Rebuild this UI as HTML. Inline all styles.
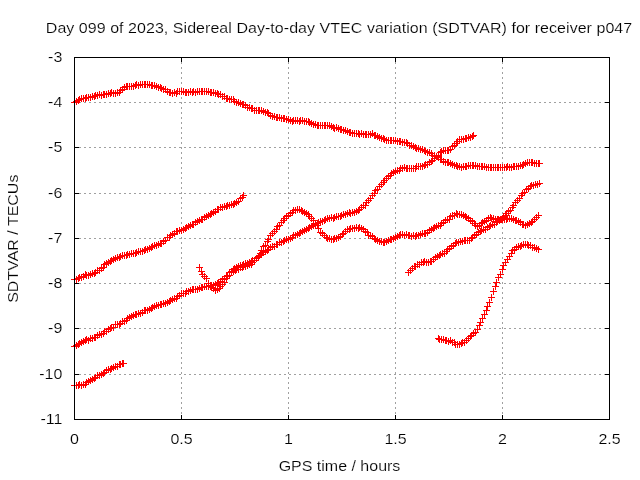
<!DOCTYPE html>
<html><head><meta charset="utf-8"><title>SDTVAR p047</title>
<style>html,body{margin:0;padding:0;background:#fff;overflow:hidden}</style></head>
<body>
<svg width="640" height="480" viewBox="0 0 640 480" style="display:block">
<rect width="640" height="480" fill="#fff"/>
<path d="M181.5 57V420M288.5 57V420M395.5 57V420M502.5 57V420" stroke="#a0a0a0" stroke-width="1" stroke-dasharray="2 3" fill="none" shape-rendering="crispEdges"/>
<path d="M74 102.5H610M74 147.5H610M74 193.5H610M74 238.5H610M74 283.5H610M74 328.5H610M74 374.5H610" stroke="#a0a0a0" stroke-width="1" stroke-dasharray="2 3" fill="none" shape-rendering="crispEdges"/>
<path d="M181.5 57v5M181.5 420v-5M288.5 57v5M288.5 420v-5M395.5 57v5M395.5 420v-5M502.5 57v5M502.5 420v-5M74 102.5h5M610 102.5h-5M74 147.5h5M610 147.5h-5M74 193.5h5M610 193.5h-5M74 238.5h5M610 238.5h-5M74 283.5h5M610 283.5h-5M74 328.5h5M610 328.5h-5M74 374.5h5M610 374.5h-5" stroke="#000" stroke-width="1" fill="none" shape-rendering="crispEdges"/>
<path d="M71 102.5h7M74.5 99v7M73 101.5h7M76.5 98v7M75 100.5h7M78.5 97v7M76 99.5h7M79.5 96v7M78 98.5h7M81.5 95v7M80 98.5h7M83.5 95v7M82 98.5h7M85.5 95v7M83 97.5h7M86.5 94v7M85 97.5h7M88.5 94v7M87 97.5h7M90.5 94v7M89 96.5h7M92.5 93v7M91 96.5h7M94.5 93v7M92 95.5h7M95.5 92v7M94 95.5h7M97.5 92v7M96 94.5h7M99.5 91v7M98 95.5h7M101.5 92v7M100 94.5h7M103.5 91v7M101 94.5h7M104.5 91v7M103 94.5h7M106.5 91v7M105 93.5h7M108.5 90v7M107 93.5h7M110.5 90v7M108 92.5h7M111.5 89v7M110 93.5h7M113.5 90v7M112 93.5h7M115.5 90v7M114 92.5h7M117.5 89v7M116 92.5h7M119.5 89v7M117 90.5h7M120.5 87v7M119 89.5h7M122.5 86v7M121 87.5h7M124.5 84v7M123 86.5h7M126.5 83v7M124 86.5h7M127.5 83v7M126 86.5h7M129.5 83v7M128 86.5h7M131.5 83v7M130 86.5h7M133.5 83v7M132 85.5h7M135.5 82v7M133 84.5h7M136.5 81v7M135 85.5h7M138.5 82v7M137 84.5h7M140.5 81v7M139 84.5h7M142.5 81v7M141 84.5h7M144.5 81v7M142 84.5h7M145.5 81v7M144 84.5h7M147.5 81v7M146 84.5h7M149.5 81v7M148 85.5h7M151.5 82v7M149 85.5h7M152.5 82v7M151 85.5h7M154.5 82v7M153 86.5h7M156.5 83v7M155 87.5h7M158.5 84v7M157 87.5h7M160.5 84v7M158 88.5h7M161.5 85v7M160 89.5h7M163.5 86v7M162 89.5h7M165.5 86v7M164 91.5h7M167.5 88v7M166 92.5h7M169.5 89v7M167 92.5h7M170.5 89v7M169 93.5h7M172.5 90v7M171 92.5h7M174.5 89v7M173 93.5h7M176.5 90v7M174 91.5h7M177.5 88v7M176 91.5h7M179.5 88v7M178 91.5h7M181.5 88v7M180 91.5h7M183.5 88v7M182 92.5h7M185.5 89v7M183 92.5h7M186.5 89v7M185 92.5h7M188.5 89v7M187 91.5h7M190.5 88v7M189 92.5h7M192.5 89v7M190 91.5h7M193.5 88v7M192 92.5h7M195.5 89v7M194 91.5h7M197.5 88v7M196 91.5h7M199.5 88v7M198 91.5h7M201.5 88v7M199 91.5h7M202.5 88v7M201 91.5h7M204.5 88v7M203 91.5h7M206.5 88v7M205 91.5h7M208.5 88v7M207 92.5h7M210.5 89v7M208 92.5h7M211.5 89v7M210 92.5h7M213.5 89v7M212 93.5h7M215.5 90v7M214 93.5h7M217.5 90v7M215 94.5h7M218.5 91v7M217 94.5h7M220.5 91v7M219 96.5h7M222.5 93v7M221 96.5h7M224.5 93v7M223 98.5h7M226.5 95v7M224 98.5h7M227.5 95v7M226 99.5h7M229.5 96v7M228 99.5h7M231.5 96v7M230 99.5h7M233.5 96v7M231 101.5h7M234.5 98v7M233 102.5h7M236.5 99v7M235 102.5h7M238.5 99v7M237 103.5h7M240.5 100v7M239 104.5h7M242.5 101v7M240 104.5h7M243.5 101v7M242 105.5h7M245.5 102v7M244 107.5h7M247.5 104v7M246 107.5h7M249.5 104v7M248 108.5h7M251.5 105v7M249 108.5h7M252.5 105v7M251 110.5h7M254.5 107v7M253 110.5h7M256.5 107v7M255 110.5h7M258.5 107v7M256 110.5h7M259.5 107v7M258 110.5h7M261.5 107v7M260 111.5h7M263.5 108v7M262 112.5h7M265.5 109v7M264 112.5h7M267.5 109v7M265 113.5h7M268.5 110v7M267 115.5h7M270.5 112v7M269 116.5h7M272.5 113v7M271 116.5h7M274.5 113v7M273 117.5h7M276.5 114v7M274 117.5h7M277.5 114v7M276 117.5h7M279.5 114v7M278 118.5h7M281.5 115v7M280 118.5h7M283.5 115v7M281 118.5h7M284.5 115v7M283 119.5h7M286.5 116v7M285 119.5h7M288.5 116v7M287 120.5h7M290.5 117v7M289 121.5h7M292.5 118v7M290 120.5h7M293.5 117v7M292 120.5h7M295.5 117v7M294 120.5h7M297.5 117v7M296 121.5h7M299.5 118v7M297 120.5h7M300.5 117v7M299 120.5h7M302.5 117v7M301 121.5h7M304.5 118v7M303 121.5h7M306.5 118v7M305 121.5h7M308.5 118v7M306 122.5h7M309.5 119v7M308 123.5h7M311.5 120v7M310 124.5h7M313.5 121v7M312 124.5h7M315.5 121v7M314 125.5h7M317.5 122v7M315 125.5h7M318.5 122v7M317 125.5h7M320.5 122v7M319 125.5h7M322.5 122v7M321 125.5h7M324.5 122v7M322 125.5h7M325.5 122v7M324 125.5h7M327.5 122v7M326 125.5h7M329.5 122v7M328 126.5h7M331.5 123v7M330 127.5h7M333.5 124v7M331 128.5h7M334.5 125v7M333 127.5h7M336.5 124v7M335 128.5h7M338.5 125v7M337 129.5h7M340.5 126v7M338 129.5h7M341.5 126v7M340 130.5h7M343.5 127v7M342 130.5h7M345.5 127v7M344 131.5h7M347.5 128v7M346 132.5h7M349.5 129v7M347 132.5h7M350.5 129v7M349 133.5h7M352.5 130v7M351 133.5h7M354.5 130v7M353 133.5h7M356.5 130v7M355 133.5h7M358.5 130v7M356 134.5h7M359.5 131v7M358 133.5h7M361.5 130v7M360 134.5h7M363.5 131v7M362 134.5h7M365.5 131v7M363 134.5h7M366.5 131v7M365 134.5h7M368.5 131v7M367 134.5h7M370.5 131v7M369 133.5h7M372.5 130v7M371 135.5h7M374.5 132v7M372 135.5h7M375.5 132v7M374 136.5h7M377.5 133v7M376 137.5h7M379.5 134v7M378 138.5h7M381.5 135v7M380 138.5h7M383.5 135v7M381 139.5h7M384.5 136v7M383 140.5h7M386.5 137v7M385 140.5h7M388.5 137v7M387 140.5h7M390.5 137v7M388 140.5h7M391.5 137v7M390 140.5h7M393.5 137v7M392 140.5h7M395.5 137v7M394 141.5h7M397.5 138v7M396 141.5h7M399.5 138v7M397 141.5h7M400.5 138v7M399 142.5h7M402.5 139v7M401 142.5h7M404.5 139v7M403 142.5h7M406.5 139v7M404 143.5h7M407.5 140v7M406 145.5h7M409.5 142v7M408 145.5h7M411.5 142v7M410 146.5h7M413.5 143v7M412 147.5h7M415.5 144v7M413 148.5h7M416.5 145v7M415 148.5h7M418.5 145v7M417 149.5h7M420.5 146v7M419 149.5h7M422.5 146v7M421 150.5h7M424.5 147v7M422 151.5h7M425.5 148v7M424 152.5h7M427.5 149v7M426 152.5h7M429.5 149v7M428 153.5h7M431.5 150v7M429 155.5h7M432.5 152v7M431 155.5h7M434.5 152v7M433 156.5h7M436.5 153v7M435 157.5h7M438.5 154v7M437 159.5h7M440.5 156v7M438 159.5h7M441.5 156v7M440 161.5h7M443.5 158v7M442 162.5h7M445.5 159v7M444 162.5h7M447.5 159v7M445 162.5h7M448.5 159v7M447 163.5h7M450.5 160v7M449 164.5h7M452.5 161v7M451 165.5h7M454.5 162v7M453 165.5h7M456.5 162v7M454 166.5h7M457.5 163v7M456 166.5h7M459.5 163v7M458 167.5h7M461.5 164v7M460 166.5h7M463.5 163v7M462 166.5h7M465.5 163v7M463 166.5h7M466.5 163v7M465 165.5h7M468.5 162v7M467 165.5h7M470.5 162v7M469 165.5h7M472.5 162v7M470 165.5h7M473.5 162v7M472 165.5h7M475.5 162v7M474 166.5h7M477.5 163v7M476 166.5h7M479.5 163v7M478 166.5h7M481.5 163v7M479 166.5h7M482.5 163v7M481 166.5h7M484.5 163v7M483 167.5h7M486.5 164v7M485 167.5h7M488.5 164v7M487 167.5h7M490.5 164v7M488 167.5h7M491.5 164v7M490 167.5h7M493.5 164v7M492 167.5h7M495.5 164v7M494 167.5h7M497.5 164v7M495 167.5h7M498.5 164v7M497 167.5h7M500.5 164v7M499 167.5h7M502.5 164v7M501 167.5h7M504.5 164v7M503 167.5h7M506.5 164v7M504 166.5h7M507.5 163v7M506 167.5h7M509.5 164v7M508 167.5h7M511.5 164v7M510 166.5h7M513.5 163v7M511 166.5h7M514.5 163v7M513 166.5h7M516.5 163v7M515 166.5h7M518.5 163v7M517 165.5h7M520.5 162v7M519 165.5h7M522.5 162v7M520 164.5h7M523.5 161v7M522 163.5h7M525.5 160v7M524 162.5h7M527.5 159v7M526 162.5h7M529.5 159v7M528 162.5h7M531.5 159v7M529 162.5h7M532.5 159v7M531 163.5h7M534.5 160v7M533 163.5h7M536.5 160v7M535 163.5h7M538.5 160v7M536 163.5h7M539.5 160v7" stroke="#f00" stroke-width="1" fill="none" shape-rendering="crispEdges"/>
<path d="M71 279.5h7M74.5 276v7M73 279.5h7M76.5 276v7M75 278.5h7M78.5 275v7M76 277.5h7M79.5 274v7M78 277.5h7M81.5 274v7M80 276.5h7M83.5 273v7M82 274.5h7M85.5 271v7M83 275.5h7M86.5 272v7M85 275.5h7M88.5 272v7M87 274.5h7M90.5 271v7M89 273.5h7M92.5 270v7M91 273.5h7M94.5 270v7M92 272.5h7M95.5 269v7M94 270.5h7M97.5 267v7M96 270.5h7M99.5 267v7M98 268.5h7M101.5 265v7M100 267.5h7M103.5 264v7M101 264.5h7M104.5 261v7M103 263.5h7M106.5 260v7M105 262.5h7M108.5 259v7M107 261.5h7M110.5 258v7M108 260.5h7M111.5 257v7M110 259.5h7M113.5 256v7M112 258.5h7M115.5 255v7M114 257.5h7M117.5 254v7M116 257.5h7M119.5 254v7M117 256.5h7M120.5 253v7M119 255.5h7M122.5 252v7M121 255.5h7M124.5 252v7M123 255.5h7M126.5 252v7M124 254.5h7M127.5 251v7M126 254.5h7M129.5 251v7M128 253.5h7M131.5 250v7M130 253.5h7M133.5 250v7M132 253.5h7M135.5 250v7M133 252.5h7M136.5 249v7M135 251.5h7M138.5 248v7M137 251.5h7M140.5 248v7M139 251.5h7M142.5 248v7M141 250.5h7M144.5 247v7M142 249.5h7M145.5 246v7M144 249.5h7M147.5 246v7M146 248.5h7M149.5 245v7M148 247.5h7M151.5 244v7M149 246.5h7M152.5 243v7M151 245.5h7M154.5 242v7M153 245.5h7M156.5 242v7M155 244.5h7M158.5 241v7M157 243.5h7M160.5 240v7M158 243.5h7M161.5 240v7M160 241.5h7M163.5 238v7M162 240.5h7M165.5 237v7M164 237.5h7M167.5 234v7M166 237.5h7M169.5 234v7M167 235.5h7M170.5 232v7M169 234.5h7M172.5 231v7M171 233.5h7M174.5 230v7M173 231.5h7M176.5 228v7M174 231.5h7M177.5 228v7M176 230.5h7M179.5 227v7M178 230.5h7M181.5 227v7M180 229.5h7M183.5 226v7M182 228.5h7M185.5 225v7M183 227.5h7M186.5 224v7M185 226.5h7M188.5 223v7M187 225.5h7M190.5 222v7M189 224.5h7M192.5 221v7M190 224.5h7M193.5 221v7M192 222.5h7M195.5 219v7M194 221.5h7M197.5 218v7M196 220.5h7M199.5 217v7M198 219.5h7M201.5 216v7M199 219.5h7M202.5 216v7M201 217.5h7M204.5 214v7M203 216.5h7M206.5 213v7M205 215.5h7M208.5 212v7M207 214.5h7M210.5 211v7M208 213.5h7M211.5 210v7M210 212.5h7M213.5 209v7M212 211.5h7M215.5 208v7M214 209.5h7M217.5 206v7M215 209.5h7M218.5 206v7M217 207.5h7M220.5 204v7M219 207.5h7M222.5 204v7M221 206.5h7M224.5 203v7M223 206.5h7M226.5 203v7M224 205.5h7M227.5 202v7M226 205.5h7M229.5 202v7M228 204.5h7M231.5 201v7M230 204.5h7M233.5 201v7M231 203.5h7M234.5 200v7M233 202.5h7M236.5 199v7M235 201.5h7M238.5 198v7M237 198.5h7M240.5 195v7M239 197.5h7M242.5 194v7M240 195.5h7M243.5 192v7" stroke="#f00" stroke-width="1" fill="none" shape-rendering="crispEdges"/>
<path d="M71 346.5h7M74.5 343v7M73 345.5h7M76.5 342v7M75 344.5h7M78.5 341v7M76 343.5h7M79.5 340v7M78 342.5h7M81.5 339v7M80 341.5h7M83.5 338v7M82 340.5h7M85.5 337v7M83 339.5h7M86.5 336v7M85 340.5h7M88.5 337v7M87 338.5h7M90.5 335v7M89 338.5h7M92.5 335v7M91 337.5h7M94.5 334v7M92 337.5h7M95.5 334v7M94 335.5h7M97.5 332v7M96 334.5h7M99.5 331v7M98 334.5h7M101.5 331v7M100 333.5h7M103.5 330v7M101 331.5h7M104.5 328v7M103 331.5h7M106.5 328v7M105 329.5h7M108.5 326v7M107 328.5h7M110.5 325v7M108 327.5h7M111.5 324v7M110 327.5h7M113.5 324v7M112 324.5h7M115.5 321v7M114 324.5h7M117.5 321v7M116 324.5h7M119.5 321v7M117 323.5h7M120.5 320v7M119 321.5h7M122.5 318v7M121 321.5h7M124.5 318v7M123 320.5h7M126.5 317v7M124 318.5h7M127.5 315v7M126 317.5h7M129.5 314v7M128 316.5h7M131.5 313v7M130 315.5h7M133.5 312v7M132 314.5h7M135.5 311v7M133 314.5h7M136.5 311v7M135 313.5h7M138.5 310v7M137 313.5h7M140.5 310v7M139 312.5h7M142.5 309v7M141 310.5h7M144.5 307v7M142 310.5h7M145.5 307v7M144 310.5h7M147.5 307v7M146 309.5h7M149.5 306v7M148 308.5h7M151.5 305v7M149 307.5h7M152.5 304v7M151 306.5h7M154.5 303v7M153 305.5h7M156.5 302v7M155 305.5h7M158.5 302v7M157 304.5h7M160.5 301v7M158 304.5h7M161.5 301v7M160 303.5h7M163.5 300v7M162 303.5h7M165.5 300v7M164 302.5h7M167.5 299v7M166 301.5h7M169.5 298v7M167 300.5h7M170.5 297v7M169 299.5h7M172.5 296v7M171 298.5h7M174.5 295v7M173 298.5h7M176.5 295v7M174 296.5h7M177.5 293v7M176 295.5h7M179.5 292v7M178 293.5h7M181.5 290v7M180 293.5h7M183.5 290v7M182 293.5h7M185.5 290v7M183 291.5h7M186.5 288v7M185 291.5h7M188.5 288v7M187 290.5h7M190.5 287v7M189 289.5h7M192.5 286v7M190 289.5h7M193.5 286v7M192 289.5h7M195.5 286v7M194 289.5h7M197.5 286v7M196 288.5h7M199.5 285v7M198 287.5h7M201.5 284v7M199 287.5h7M202.5 284v7M201 286.5h7M204.5 283v7M203 286.5h7M206.5 283v7M205 286.5h7M208.5 283v7M207 286.5h7M210.5 283v7M208 285.5h7M211.5 282v7M210 285.5h7M213.5 282v7M212 284.5h7M215.5 281v7M214 283.5h7M217.5 280v7M215 282.5h7M218.5 279v7M217 281.5h7M220.5 278v7M219 279.5h7M222.5 276v7M221 278.5h7M224.5 275v7M223 276.5h7M226.5 273v7M224 275.5h7M227.5 272v7M226 272.5h7M229.5 269v7M228 271.5h7M231.5 268v7M230 269.5h7M233.5 266v7M231 268.5h7M234.5 265v7M233 267.5h7M236.5 264v7M235 266.5h7M238.5 263v7M237 265.5h7M240.5 262v7M239 265.5h7M242.5 262v7M240 264.5h7M243.5 261v7M242 263.5h7M245.5 260v7M244 263.5h7M247.5 260v7M246 262.5h7M249.5 259v7M248 261.5h7M251.5 258v7M249 260.5h7M252.5 257v7M251 260.5h7M254.5 257v7M253 258.5h7M256.5 255v7M255 257.5h7M258.5 254v7M256 255.5h7M259.5 252v7M258 254.5h7M261.5 251v7M260 252.5h7M263.5 249v7M262 251.5h7M265.5 248v7M264 250.5h7M267.5 247v7M265 249.5h7M268.5 246v7M267 247.5h7M270.5 244v7M269 246.5h7M272.5 243v7M271 246.5h7M274.5 243v7M273 244.5h7M276.5 241v7M274 244.5h7M277.5 241v7M276 242.5h7M279.5 239v7M278 242.5h7M281.5 239v7M280 241.5h7M283.5 238v7M281 240.5h7M284.5 237v7M283 239.5h7M286.5 236v7M285 239.5h7M288.5 236v7M287 238.5h7M290.5 235v7M289 237.5h7M292.5 234v7M290 235.5h7M293.5 232v7M292 235.5h7M295.5 232v7M294 234.5h7M297.5 231v7M296 233.5h7M299.5 230v7M297 232.5h7M300.5 229v7M299 231.5h7M302.5 228v7M301 230.5h7M304.5 227v7M303 229.5h7M306.5 226v7M305 228.5h7M308.5 225v7M306 227.5h7M309.5 224v7M308 226.5h7M311.5 223v7M310 225.5h7M313.5 222v7M312 224.5h7M315.5 221v7M314 223.5h7M317.5 220v7M315 222.5h7M318.5 219v7M317 221.5h7M320.5 218v7M319 221.5h7M322.5 218v7M321 220.5h7M324.5 217v7M322 219.5h7M325.5 216v7M324 218.5h7M327.5 215v7M326 218.5h7M329.5 215v7M328 217.5h7M331.5 214v7M330 218.5h7M333.5 215v7M331 217.5h7M334.5 214v7M333 216.5h7M336.5 213v7M335 216.5h7M338.5 213v7M337 216.5h7M340.5 213v7M338 215.5h7M341.5 212v7M340 214.5h7M343.5 211v7M342 214.5h7M345.5 211v7M344 213.5h7M347.5 210v7M346 212.5h7M349.5 209v7M347 213.5h7M350.5 210v7M349 212.5h7M352.5 209v7M351 212.5h7M354.5 209v7M353 211.5h7M356.5 208v7M355 210.5h7M358.5 207v7M356 209.5h7M359.5 206v7M358 207.5h7M361.5 204v7M360 205.5h7M363.5 202v7M362 205.5h7M365.5 202v7M363 202.5h7M366.5 199v7M365 200.5h7M368.5 197v7M367 198.5h7M370.5 195v7M369 195.5h7M372.5 192v7M371 193.5h7M374.5 190v7M372 190.5h7M375.5 187v7M374 189.5h7M377.5 186v7M376 186.5h7M379.5 183v7M378 184.5h7M381.5 181v7M380 182.5h7M383.5 179v7M381 180.5h7M384.5 177v7M383 178.5h7M386.5 175v7M385 176.5h7M388.5 173v7M387 175.5h7M390.5 172v7M388 173.5h7M391.5 170v7M390 172.5h7M393.5 169v7M392 171.5h7M395.5 168v7M394 170.5h7M397.5 167v7M396 170.5h7M399.5 167v7M397 168.5h7M400.5 165v7M399 168.5h7M402.5 165v7M401 167.5h7M404.5 164v7M403 168.5h7M406.5 165v7M404 168.5h7M407.5 165v7M406 168.5h7M409.5 165v7M408 168.5h7M411.5 165v7M410 168.5h7M413.5 165v7M412 168.5h7M415.5 165v7M413 166.5h7M416.5 163v7M415 166.5h7M418.5 163v7M417 166.5h7M420.5 163v7M419 166.5h7M422.5 163v7M421 165.5h7M424.5 162v7M422 164.5h7M425.5 161v7M424 164.5h7M427.5 161v7M426 162.5h7M429.5 159v7M428 161.5h7M431.5 158v7M429 160.5h7M432.5 157v7M431 158.5h7M434.5 155v7M433 156.5h7M436.5 153v7M435 155.5h7M438.5 152v7M437 152.5h7M440.5 149v7M438 151.5h7M441.5 148v7M440 150.5h7M443.5 147v7M442 150.5h7M445.5 147v7M444 150.5h7M447.5 147v7M445 150.5h7M448.5 147v7M447 149.5h7M450.5 146v7M449 146.5h7M452.5 143v7M451 145.5h7M454.5 142v7M453 143.5h7M456.5 140v7M454 141.5h7M457.5 138v7M456 139.5h7M459.5 136v7M458 139.5h7M461.5 136v7M460 139.5h7M463.5 136v7M462 138.5h7M465.5 135v7M463 138.5h7M466.5 135v7M465 137.5h7M468.5 134v7M467 137.5h7M470.5 134v7M469 136.5h7M472.5 133v7M470 135.5h7M473.5 132v7" stroke="#f00" stroke-width="1" fill="none" shape-rendering="crispEdges"/>
<path d="M71 385.5h7M74.5 382v7M73 385.5h7M76.5 382v7M75 385.5h7M78.5 382v7M76 384.5h7M79.5 381v7M78 385.5h7M81.5 382v7M80 384.5h7M83.5 381v7M82 384.5h7M85.5 381v7M83 382.5h7M86.5 379v7M85 381.5h7M88.5 378v7M87 380.5h7M90.5 377v7M89 379.5h7M92.5 376v7M91 378.5h7M94.5 375v7M92 377.5h7M95.5 374v7M94 375.5h7M97.5 372v7M96 375.5h7M99.5 372v7M98 374.5h7M101.5 371v7M100 373.5h7M103.5 370v7M101 372.5h7M104.5 369v7M103 370.5h7M106.5 367v7M105 369.5h7M108.5 366v7M107 369.5h7M110.5 366v7M108 368.5h7M111.5 365v7M110 367.5h7M113.5 364v7M112 366.5h7M115.5 363v7M114 366.5h7M117.5 363v7M116 364.5h7M119.5 361v7M117 364.5h7M120.5 361v7M119 363.5h7M122.5 360v7M120 363.5h7M123.5 360v7" stroke="#f00" stroke-width="1" fill="none" shape-rendering="crispEdges"/>
<path d="M196 267.5h7M199.5 264v7M198 271.5h7M201.5 268v7M199 274.5h7M202.5 271v7M201 276.5h7M204.5 273v7M203 278.5h7M206.5 275v7M205 283.5h7M208.5 280v7M207 285.5h7M210.5 282v7M208 287.5h7M211.5 284v7M210 288.5h7M213.5 285v7M212 290.5h7M215.5 287v7M214 289.5h7M217.5 286v7M216 288.5h7M219.5 285v7M217 286.5h7M220.5 283v7M219 284.5h7M222.5 281v7M221 282.5h7M224.5 279v7M223 278.5h7M226.5 275v7M224 276.5h7M227.5 273v7M226 275.5h7M229.5 272v7M228 272.5h7M231.5 269v7M230 271.5h7M233.5 268v7M232 270.5h7M235.5 267v7M233 269.5h7M236.5 266v7M235 269.5h7M238.5 266v7M237 267.5h7M240.5 264v7M239 267.5h7M242.5 264v7M240 266.5h7M243.5 263v7M242 266.5h7M245.5 263v7M244 265.5h7M247.5 262v7M246 264.5h7M249.5 261v7M248 264.5h7M251.5 261v7M249 262.5h7M252.5 259v7M251 260.5h7M254.5 257v7M253 258.5h7M256.5 255v7M255 256.5h7M258.5 253v7M257 253.5h7M260.5 250v7M258 250.5h7M261.5 247v7M260 246.5h7M263.5 243v7M262 245.5h7M265.5 242v7M264 241.5h7M267.5 238v7M265 239.5h7M268.5 236v7M267 235.5h7M270.5 232v7M269 233.5h7M272.5 230v7M271 231.5h7M274.5 228v7M273 229.5h7M276.5 226v7M274 226.5h7M277.5 223v7M276 225.5h7M279.5 222v7M278 222.5h7M281.5 219v7M280 220.5h7M283.5 217v7M281 218.5h7M284.5 215v7M283 216.5h7M286.5 213v7M285 215.5h7M288.5 212v7M287 213.5h7M290.5 210v7M289 212.5h7M292.5 209v7M290 210.5h7M293.5 207v7M292 210.5h7M295.5 207v7M294 209.5h7M297.5 206v7M296 209.5h7M299.5 206v7M298 210.5h7M301.5 207v7M299 211.5h7M302.5 208v7M301 212.5h7M304.5 209v7M303 213.5h7M306.5 210v7M305 214.5h7M308.5 211v7M306 216.5h7M309.5 213v7M308 218.5h7M311.5 215v7M310 220.5h7M313.5 217v7M312 223.5h7M315.5 220v7M314 225.5h7M317.5 222v7M315 228.5h7M318.5 225v7M317 232.5h7M320.5 229v7M319 233.5h7M322.5 230v7M321 235.5h7M324.5 232v7M323 237.5h7M326.5 234v7M324 238.5h7M327.5 235v7M326 238.5h7M329.5 235v7M328 239.5h7M331.5 236v7M330 239.5h7M333.5 236v7M331 238.5h7M334.5 235v7M333 238.5h7M336.5 235v7M335 237.5h7M338.5 234v7M337 236.5h7M340.5 233v7M339 234.5h7M342.5 231v7M340 233.5h7M343.5 230v7M342 231.5h7M345.5 228v7M344 229.5h7M347.5 226v7M346 229.5h7M349.5 226v7M347 228.5h7M350.5 225v7M349 228.5h7M352.5 225v7M351 228.5h7M354.5 225v7M353 227.5h7M356.5 224v7M355 228.5h7M358.5 225v7M356 227.5h7M359.5 224v7M358 228.5h7M361.5 225v7M360 229.5h7M363.5 226v7M362 231.5h7M365.5 228v7M364 232.5h7M367.5 229v7M365 235.5h7M368.5 232v7M367 235.5h7M370.5 232v7M369 236.5h7M372.5 233v7M371 238.5h7M374.5 235v7M372 239.5h7M375.5 236v7M374 240.5h7M377.5 237v7M376 241.5h7M379.5 238v7M378 241.5h7M381.5 238v7M380 242.5h7M383.5 239v7M381 242.5h7M384.5 239v7M383 241.5h7M386.5 238v7M385 240.5h7M388.5 237v7M387 239.5h7M390.5 236v7M388 239.5h7M391.5 236v7M390 238.5h7M393.5 235v7M392 237.5h7M395.5 234v7M394 236.5h7M397.5 233v7M396 235.5h7M399.5 232v7M397 234.5h7M400.5 231v7M399 234.5h7M402.5 231v7M401 235.5h7M404.5 232v7M403 234.5h7M406.5 231v7M405 235.5h7M408.5 232v7M406 235.5h7M409.5 232v7M408 236.5h7M411.5 233v7M410 235.5h7M413.5 232v7M412 236.5h7M415.5 233v7M413 235.5h7M416.5 232v7M415 235.5h7M418.5 232v7M417 234.5h7M420.5 231v7M419 233.5h7M422.5 230v7M421 233.5h7M424.5 230v7M422 233.5h7M425.5 230v7M424 232.5h7M427.5 229v7M426 230.5h7M429.5 227v7M428 229.5h7M431.5 226v7M430 228.5h7M433.5 225v7M431 227.5h7M434.5 224v7M433 226.5h7M436.5 223v7M435 225.5h7M438.5 222v7M437 225.5h7M440.5 222v7M438 223.5h7M441.5 220v7M440 222.5h7M443.5 219v7M442 220.5h7M445.5 217v7M444 219.5h7M447.5 216v7M446 219.5h7M449.5 216v7M447 216.5h7M450.5 213v7M449 215.5h7M452.5 212v7M451 215.5h7M454.5 212v7M453 213.5h7M456.5 210v7M454 214.5h7M457.5 211v7M456 214.5h7M459.5 211v7M458 214.5h7M461.5 211v7M460 215.5h7M463.5 212v7M462 216.5h7M465.5 213v7M463 217.5h7M466.5 214v7M465 218.5h7M468.5 215v7M467 220.5h7M470.5 217v7M469 221.5h7M472.5 218v7M471 223.5h7M474.5 220v7M472 225.5h7M475.5 222v7M474 226.5h7M477.5 223v7M476 225.5h7M479.5 222v7M478 223.5h7M481.5 220v7M479 222.5h7M482.5 219v7M481 221.5h7M484.5 218v7M483 220.5h7M486.5 217v7M485 218.5h7M488.5 215v7M487 217.5h7M490.5 214v7M488 218.5h7M491.5 215v7M490 218.5h7M493.5 215v7M492 219.5h7M495.5 216v7M494 219.5h7M497.5 216v7M495 219.5h7M498.5 216v7M497 219.5h7M500.5 216v7M499 219.5h7M502.5 216v7M501 219.5h7M504.5 216v7M503 219.5h7M506.5 216v7M504 218.5h7M507.5 215v7M506 218.5h7M509.5 215v7M508 218.5h7M511.5 215v7M510 219.5h7M513.5 216v7M512 220.5h7M515.5 217v7M513 220.5h7M516.5 217v7M515 221.5h7M518.5 218v7M517 222.5h7M520.5 219v7M519 224.5h7M522.5 221v7M520 224.5h7M523.5 221v7M522 225.5h7M525.5 222v7M524 224.5h7M527.5 221v7M526 223.5h7M529.5 220v7M528 222.5h7M531.5 219v7M529 221.5h7M532.5 218v7M531 219.5h7M534.5 216v7M533 217.5h7M536.5 214v7M535 215.5h7M538.5 212v7" stroke="#f00" stroke-width="1" fill="none" shape-rendering="crispEdges"/>
<path d="M405 272.5h7M408.5 269v7M407 270.5h7M410.5 267v7M409 268.5h7M412.5 265v7M411 266.5h7M414.5 263v7M412 266.5h7M415.5 263v7M414 264.5h7M417.5 261v7M416 264.5h7M419.5 261v7M418 262.5h7M421.5 259v7M420 262.5h7M423.5 259v7M421 261.5h7M424.5 258v7M423 262.5h7M426.5 259v7M425 262.5h7M428.5 259v7M427 261.5h7M430.5 258v7M428 261.5h7M431.5 258v7M430 259.5h7M433.5 256v7M432 257.5h7M435.5 254v7M434 256.5h7M437.5 253v7M436 255.5h7M439.5 252v7M437 254.5h7M440.5 251v7M439 253.5h7M442.5 250v7M441 253.5h7M444.5 250v7M443 251.5h7M446.5 248v7M444 249.5h7M447.5 246v7M446 248.5h7M449.5 245v7M448 246.5h7M451.5 243v7M450 245.5h7M453.5 242v7M452 243.5h7M455.5 240v7M453 242.5h7M456.5 239v7M455 242.5h7M458.5 239v7M457 241.5h7M460.5 238v7M459 241.5h7M462.5 238v7M461 240.5h7M464.5 237v7M462 240.5h7M465.5 237v7M464 240.5h7M467.5 237v7M466 240.5h7M469.5 237v7M468 238.5h7M471.5 235v7M469 237.5h7M472.5 234v7M471 235.5h7M474.5 232v7M473 234.5h7M476.5 231v7M475 232.5h7M478.5 229v7M477 231.5h7M480.5 228v7M478 230.5h7M481.5 227v7M480 229.5h7M483.5 226v7M482 229.5h7M485.5 226v7M484 227.5h7M487.5 224v7M486 226.5h7M489.5 223v7M487 225.5h7M490.5 222v7M489 224.5h7M492.5 221v7M491 224.5h7M494.5 221v7M493 222.5h7M496.5 219v7M494 221.5h7M497.5 218v7M496 220.5h7M499.5 217v7M498 219.5h7M501.5 216v7M500 217.5h7M503.5 214v7M502 215.5h7M505.5 212v7M503 213.5h7M506.5 210v7M505 211.5h7M508.5 208v7M507 210.5h7M510.5 207v7M509 207.5h7M512.5 204v7M510 205.5h7M513.5 202v7M512 202.5h7M515.5 199v7M514 200.5h7M517.5 197v7M516 198.5h7M519.5 195v7M518 195.5h7M521.5 192v7M519 193.5h7M522.5 190v7M521 192.5h7M524.5 189v7M523 189.5h7M526.5 186v7M525 188.5h7M528.5 185v7M527 186.5h7M530.5 183v7M528 185.5h7M531.5 182v7M530 185.5h7M533.5 182v7M532 184.5h7M535.5 181v7M534 184.5h7M537.5 181v7M536 183.5h7M539.5 180v7" stroke="#f00" stroke-width="1" fill="none" shape-rendering="crispEdges"/>
<path d="M435 338.5h7M438.5 335v7M436 339.5h7M439.5 336v7M438 339.5h7M441.5 336v7M440 339.5h7M443.5 336v7M442 340.5h7M445.5 337v7M443 340.5h7M446.5 337v7M445 341.5h7M448.5 338v7M447 340.5h7M450.5 337v7M449 342.5h7M452.5 339v7M451 342.5h7M454.5 339v7M452 344.5h7M455.5 341v7M454 344.5h7M457.5 341v7M456 344.5h7M459.5 341v7M458 343.5h7M461.5 340v7M459 342.5h7M462.5 339v7M461 342.5h7M464.5 339v7M463 340.5h7M466.5 337v7M465 338.5h7M468.5 335v7M467 336.5h7M470.5 333v7M468 335.5h7M471.5 332v7M470 333.5h7M473.5 330v7M472 332.5h7M475.5 329v7M474 329.5h7M477.5 326v7M476 325.5h7M479.5 322v7M477 322.5h7M480.5 319v7M479 318.5h7M482.5 315v7M481 314.5h7M484.5 311v7M483 310.5h7M486.5 307v7M484 306.5h7M487.5 303v7M486 302.5h7M489.5 299v7M488 297.5h7M491.5 294v7M490 291.5h7M493.5 288v7M492 286.5h7M495.5 283v7M493 282.5h7M496.5 279v7M495 277.5h7M498.5 274v7M497 274.5h7M500.5 271v7M499 269.5h7M502.5 266v7M500 265.5h7M503.5 262v7M502 262.5h7M505.5 259v7M504 259.5h7M507.5 256v7M506 256.5h7M509.5 253v7M508 253.5h7M511.5 250v7M509 250.5h7M512.5 247v7M511 249.5h7M514.5 246v7M513 247.5h7M516.5 244v7M515 246.5h7M518.5 243v7M517 246.5h7M520.5 243v7M518 245.5h7M521.5 242v7M520 244.5h7M523.5 241v7M522 244.5h7M525.5 241v7M524 244.5h7M527.5 241v7M525 245.5h7M528.5 242v7M527 245.5h7M530.5 242v7M529 247.5h7M532.5 244v7M531 247.5h7M534.5 244v7M533 248.5h7M536.5 245v7M535 249.5h7M538.5 246v7" stroke="#f00" stroke-width="1" fill="none" shape-rendering="crispEdges"/>
<rect x="74.5" y="57.5" width="535" height="362" fill="none" stroke="#000" stroke-width="1" shape-rendering="crispEdges"/>
<g font-family="'Liberation Sans', Arial, sans-serif" font-size="16" fill="#000" stroke="#fff" stroke-width="0.18">
<text transform="translate(45.8 33) scale(1 0.92)" text-anchor="start" textLength="586.4" lengthAdjust="spacing">Day 099 of 2023, Sidereal Day-to-day VTEC variation (SDTVAR) for receiver p047</text>
<text transform="translate(339.5 471) scale(1 0.92)" text-anchor="middle">GPS time / hours</text>
<text transform="translate(18.3 238.7) rotate(-90) scale(1 0.92)" text-anchor="middle">SDTVAR / TECUs</text>
<text transform="translate(62.3 62.2) scale(1 0.92)" text-anchor="end">-3</text>
<text transform="translate(62.3 107.2) scale(1 0.92)" text-anchor="end">-4</text>
<text transform="translate(62.3 152.2) scale(1 0.92)" text-anchor="end">-5</text>
<text transform="translate(62.3 198.2) scale(1 0.92)" text-anchor="end">-6</text>
<text transform="translate(62.3 243.2) scale(1 0.92)" text-anchor="end">-7</text>
<text transform="translate(62.3 288.2) scale(1 0.92)" text-anchor="end">-8</text>
<text transform="translate(62.3 333.2) scale(1 0.92)" text-anchor="end">-9</text>
<text transform="translate(62.3 379.2) scale(1 0.92)" text-anchor="end">-10</text>
<text transform="translate(62.3 424.2) scale(1 0.92)" text-anchor="end">-11</text>
<text transform="translate(74.5 443.6) scale(1 0.92)" text-anchor="middle">0</text>
<text transform="translate(181.5 443.6) scale(1 0.92)" text-anchor="middle">0.5</text>
<text transform="translate(288.5 443.6) scale(1 0.92)" text-anchor="middle">1</text>
<text transform="translate(395.5 443.6) scale(1 0.92)" text-anchor="middle">1.5</text>
<text transform="translate(502.5 443.6) scale(1 0.92)" text-anchor="middle">2</text>
<text transform="translate(609.5 443.6) scale(1 0.92)" text-anchor="middle">2.5</text>
</g>
</svg>
</body></html>
